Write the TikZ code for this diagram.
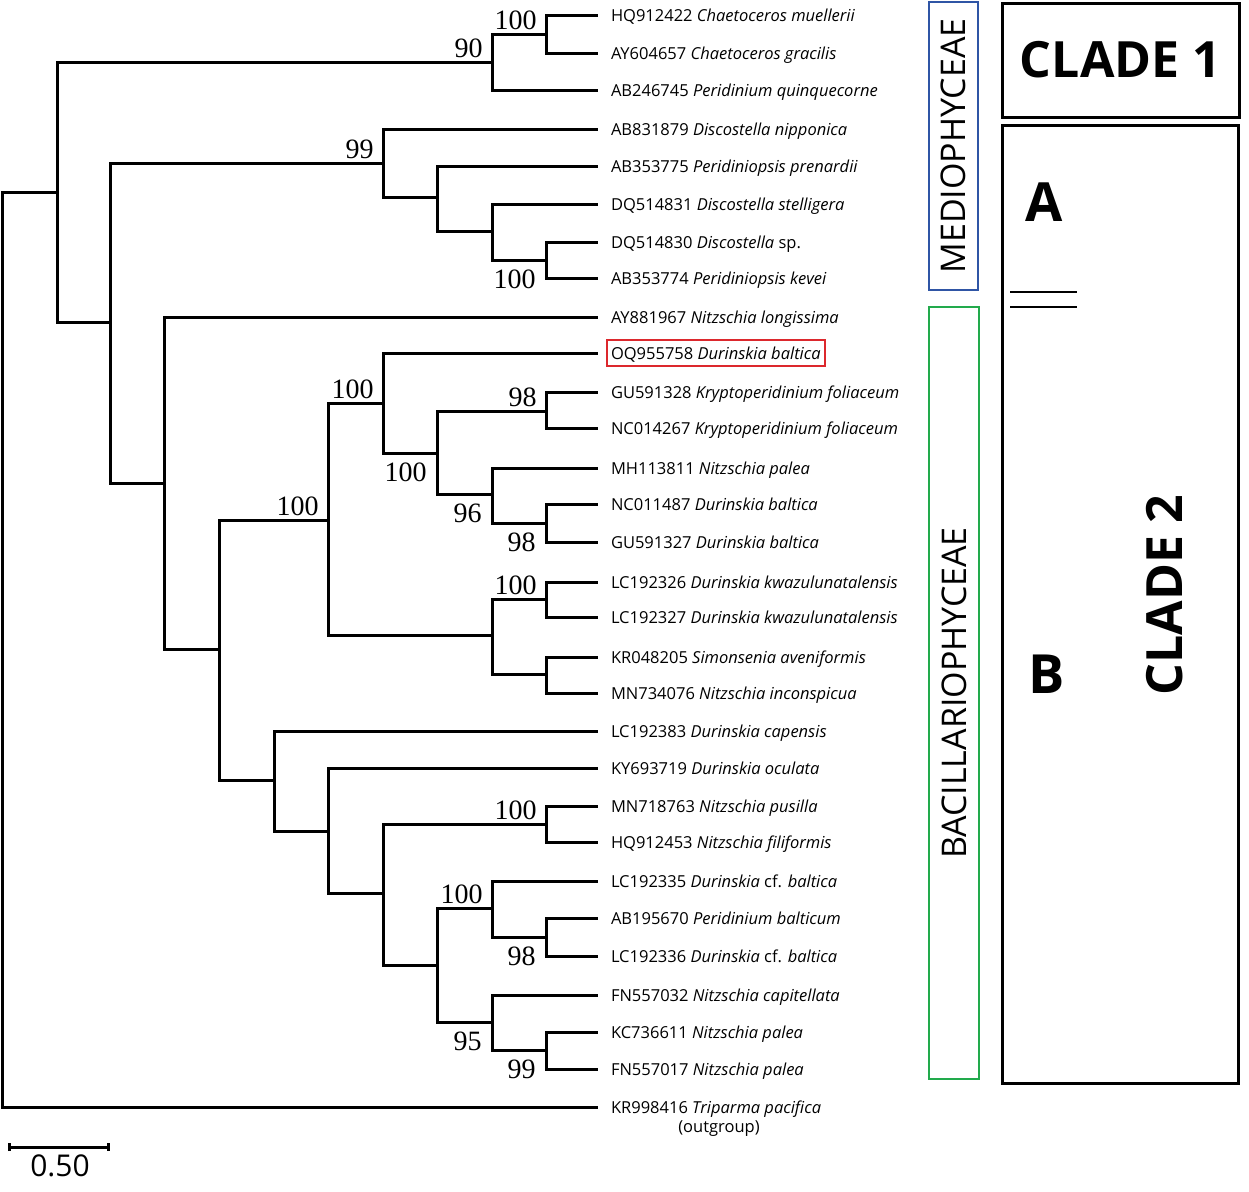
\documentclass[tikz,border=0pt]{standalone}
\usepackage{fontspec}
\setmainfont{Open Sans}
\newfontfamily\bsfont{Liberation Serif}
\usetikzlibrary{arrows.meta}
\definecolor{medioblue}{RGB}{47,85,165}
\definecolor{bacigreen}{RGB}{34,170,76}
\definecolor{boxred}{RGB}{220,40,45}

\begin{document}
\begin{tikzpicture}[
x=1pt, y=-1pt,
line width=3pt,
every node/.style={inner sep=0pt},
]
\useasboundingbox (0,0) rectangle (1249,1191);
% \draw [help lines, step=50] (0,0) grid (1249,1191);

\tikzset{
	tip/.style={anchor=west, inner xsep=4pt, inner ysep=5pt, outer xsep=9pt,
		text height=14.5pt, text depth=2pt, font=\fontsize{16.5}{20}\selectfont},
	bs/.style={font=\bsfont\fontsize{28}{30}\selectfont},
	al/.style={bs, anchor=base east, xshift=-8pt, yshift=5pt},
	bl/.style={bs, anchor=north east, xshift=-9pt, yshift=-8pt},
	grp/.style={rotate=90, line width=2.4pt, font=\fontsize{34}{36}\selectfont},
	clade/.style={draw, line width=3pt, font=\bfseries\fontsize{50}{52}\selectfont},
	sub/.style={font=\bfseries\fontsize{54}{56}\selectfont},
}

% tips
\node[tip] (t1) at (598,15) {HQ912422 \textit{Chaetoceros muellerii}};
\node[tip] (t2) at (598,53) {AY604657 \textit{Chaetoceros gracilis}};
\node[tip] (t3) at (598,90) {AB246745 \textit{Peridinium quinquecorne}};
\node[tip] (t4) at (598,129) {AB831879 \textit{Discostella nipponica}};
\node[tip] (t5) at (598,166) {AB353775 \textit{Peridiniopsis prenardii}};
\node[tip] (t6) at (598,204) {DQ514831 \textit{Discostella stelligera}};
\node[tip] (t7) at (598,242) {DQ514830 \textit{Discostella} sp.};
\node[tip] (t8) at (598,278) {AB353774 \textit{Peridiniopsis kevei}};
\node[tip] (t9) at (598,317) {AY881967 \textit{Nitzschia longissima}};
\node[tip, draw=boxred, line width=1.6pt] (t10) at (598,353) {OQ955758 \textit{Durinskia baltica}};
\node[tip] (t11) at (598,392) {GU591328 \textit{Kryptoperidinium foliaceum}};
\node[tip] (t12) at (598,428) {NC014267 \textit{Kryptoperidinium foliaceum}};
\node[tip] (t13) at (598,468) {MH113811 \textit{Nitzschia palea}};
\node[tip] (t14) at (598,504) {NC011487 \textit{Durinskia baltica}};
\node[tip] (t15) at (598,542) {GU591327 \textit{Durinskia baltica}};
\node[tip] (t16) at (598,582) {LC192326 \textit{Durinskia kwazulunatalensis}};
\node[tip] (t17) at (598,617) {LC192327 \textit{Durinskia kwazulunatalensis}};
\node[tip] (t18) at (598,657) {KR048205 \textit{Simonsenia aveniformis}};
\node[tip] (t19) at (598,693) {MN734076 \textit{Nitzschia inconspicua}};
\node[tip] (t20) at (598,731) {LC192383 \textit{Durinskia capensis}};
\node[tip] (t21) at (598,768) {KY693719 \textit{Durinskia oculata}};
\node[tip] (t22) at (598,806) {MN718763 \textit{Nitzschia pusilla}};
\node[tip] (t23) at (598,842) {HQ912453 \textit{Nitzschia filiformis}};
\node[tip] (t24) at (598,881) {LC192335 \textit{Durinskia} cf. \textit{baltica}};
\node[tip] (t25) at (598,918) {AB195670 \textit{Peridinium balticum}};
\node[tip] (t26) at (598,956) {LC192336 \textit{Durinskia} cf. \textit{baltica}};
\node[tip] (t27) at (598,995) {FN557032 \textit{Nitzschia capitellata}};
\node[tip] (t28) at (598,1032) {KC736611 \textit{Nitzschia palea}};
\node[tip] (t29) at (598,1069) {FN557017 \textit{Nitzschia palea}};
\node[tip] (t30) at (598,1107) {KR998416 \textit{Triparma pacifica}};
\node[font=\fontsize{16.5}{20}\selectfont] (outg) at (719,1129) {(outgroup)};

% internal nodes
\coordinate (a1) at (546,34);
\coordinate (a2) at (492,62);
\coordinate (b1) at (546,260);
\coordinate (b2) at (492,231);
\coordinate (b3) at (437,197);
\coordinate (b4) at (383,163);
\coordinate (c1) at (546,411);
\coordinate (c2) at (546,523);
\coordinate (c3) at (492,494);
\coordinate (c4) at (437,453);
\coordinate (c5) at (383,403);
\coordinate (c6) at (546,599);
\coordinate (c7) at (546,674);
\coordinate (c8) at (492,635);
\coordinate (c9) at (328,520);
\coordinate (d1) at (546,824);
\coordinate (d2) at (546,937);
\coordinate (d3) at (492,908);
\coordinate (d4) at (546,1050);
\coordinate (d5) at (492,1022);
\coordinate (d6) at (437,965);
\coordinate (d7) at (383,893);
\coordinate (d8) at (328,831);
\coordinate (d9) at (274,780);
\coordinate (e1) at (219,649);
\coordinate (e2) at (164,483);
\coordinate (e3) at (110,322);
\coordinate (e4) at (57,192);
\coordinate (root) at (2,650);

% branches to tips
\foreach \p/\c in {a1/t1,a1/t2,a2/t3,b4/t4,b3/t5,b2/t6,b1/t7,b1/t8,e2/t9,
	c5/t10,c1/t11,c1/t12,c3/t13,c2/t14,c2/t15,c6/t16,c6/t17,c7/t18,c7/t19,
	d9/t20,d8/t21,d1/t22,d1/t23,d3/t24,d2/t25,d2/t26,d5/t27,d4/t28,d4/t29,root/t30}
	\draw (\p) |- (\c.west);

% inner branches
\foreach \p/\c in {a2/a1,b2/b1,b3/b2,b4/b3,c3/c2,c4/c1,c4/c3,c5/c4,c8/c6,c8/c7,
	c9/c5,c9/c8,d3/d2,d5/d4,d6/d3,d6/d5,d7/d1,d7/d6,d8/d7,d9/d8,e1/c9,e1/d9,
	e2/e1,e3/b4,e3/e2,e4/a2,e4/e3,root/e4}
	\draw (\p) |- (\c);

% bootstrap values
\node[al] at (a1) {100};
\node[al] at (a2) {90};
\node[al] at (b4) {99};
\node[bl] at (b1) {100};
\node[al] at (c5) {100};
\node[bl] at (c4) {100};
\node[al] at (c1) {98};
\node[bl] at (c3) {96};
\node[bl] at (c2) {98};
\node[al] at (c9) {100};
\node[al] at (c6) {100};
\node[al] at (d1) {100};
\node[al] at (d3) {100};
\node[bl] at (d2) {98};
\node[bl] at (d5) {95};
\node[bl] at (d4) {99};

% scale bar
\coordinate (sbl) at (8,1147);
\coordinate (sbr) at (110,1147);
\draw[{Bar[width=8pt]}-{Bar[width=8pt]}] (sbl) -- (sbr);
\node[font=\fontsize{30}{32}\selectfont] (sblab) at (60,1166) {0.50};

% classes
\node[grp, draw=medioblue, minimum width=288pt, minimum height=49pt] (medio) at (953.5,146) {MEDIOPHYCEAE};
\node[grp, draw=bacigreen, minimum width=772pt, minimum height=50pt] (bacil) at (954,693) {BACILLARIOPHYCEAE};

% clades
\node[clade, minimum width=237pt, minimum height=114pt] (clade1) at (1120.5,60) {CLADE 1};
\node[clade, minimum width=236pt, minimum height=958pt] (clade2) at (1120,604) {};
\node[clade, draw=none, rotate=90] (clade2lab) at (1165,595) {CLADE 2};
\node[sub] (subA) at (1044,202) {A};
\node[sub] (subB) at (1047,674) {B};
\draw[line width=2.4pt] (1010,292) -- (1077,292);
\draw[line width=2.4pt] (1010,307) -- (1077,307);

\end{tikzpicture}
\end{document}
